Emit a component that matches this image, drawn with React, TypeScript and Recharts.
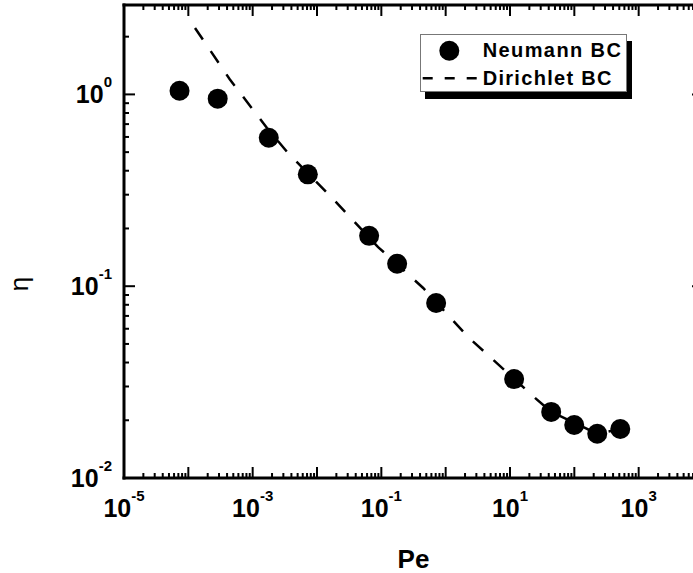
import React from 'react';
import { ScatterChart, Scatter, XAxis, YAxis, Legend } from 'recharts';

// Neumann BC: efficiency η against Péclet number
const PE_NEUMANN = [7.3e-5, 2.86e-4, 1.78e-3, 7.2e-3, 0.0646, 0.176, 0.711, 11.6, 43.7, 99.6, 227, 518];
const ETA_NEUMANN = [1.045, 0.95, 0.594, 0.383, 0.183, 0.131, 0.0817, 0.0328, 0.0221, 0.0189, 0.017, 0.018];

// Dirichlet BC curve
const PE_DIRICHLET = [1.27e-4, 4.4e-4, 1.67e-3, 3.43e-3, 0.0166, 0.0891, 0.447, 2.24, 11.2, 24.7, 43.7, 99.6, 227, 518];
const ETA_DIRICHLET = [2.22, 1.2, 0.668, 0.501, 0.292, 0.16, 0.0979, 0.0543, 0.0332, 0.0261, 0.0221, 0.0194, 0.017, 0.018];

const SERIES_NAMES = ['Neumann BC', 'Dirichlet BC'];

// axis ranges and labelled decades
const X_DOMAIN = [1e-5, 1e4];
const Y_DOMAIN = [0.01, 2.925];
const X_DECADES = [-5, -4, -3, -2, -1, 0, 1, 2, 3, 4];
const Y_DECADES = [-2, -1, 0];
const X_LABEL_EXPONENTS = [-5, -3, -1, 1, 3];
const Y_LABEL_EXPONENTS = [-2, -1, 0];
const MINOR_STEPS = [1, 2, 3, 4, 5, 6, 7, 8, 9];

const FONT = 'Arial, "Liberation Sans", Helvetica, sans-serif';

const buildTicks = (decades: number[], max: number) => {
    const out: number[] = [];
    decades.forEach(e => {
        MINOR_STEPS.forEach(m => {
            const v = m * Math.pow(10, e);
            if (v <= max * 1.0001) out.push(v);
        });
    });
    return out;
};

const X_TICKS = buildTicks(X_DECADES, X_DOMAIN[1]);
const Y_TICKS = buildTicks(Y_DECADES, Y_DOMAIN[1]);

const neumannData = PE_NEUMANN.map((pe, i) => ({ pe, eta: ETA_NEUMANN[i] }));
const dirichletData = PE_DIRICHLET.map((pe, i) => ({ pe, eta: ETA_DIRICHLET[i] }));

const isMajor = (v: number) => {
    const e = Math.log10(v);
    return Math.abs(e - Math.round(e)) < 1e-6;
};

const MAJOR_LEN = 11;
const MINOR_LEN = 5;

function PowerLabel({ x, y, exp, anchor }: { x: number; y: number; exp: number; anchor: 'middle' | 'end' }) {
    return (
        <text x={x} y={y} textAnchor={anchor} fontFamily={FONT} fontWeight="bold" fontSize={25} fill="#000">
            10<tspan dy={-16} fontSize={15}>{exp}</tspan>
        </text>
    );
}

// tick renderers: tickSize/tickMargin are 0, so x/y sit on the axis line
const BottomTick = (props: any) => {
    const { x, y, payload } = props;
    const major = isMajor(payload.value);
    const exp = Math.round(Math.log10(payload.value));
    return (
        <g>
            <line x1={x} x2={x} y1={y} y2={y - (major ? MAJOR_LEN : MINOR_LEN)} stroke="#000" strokeWidth={2} />
            {major && X_LABEL_EXPONENTS.includes(exp) && <PowerLabel x={x} y={y + 39} exp={exp} anchor="middle" />}
        </g>
    );
};

const TopTick = (props: any) => {
    const { x, y, payload } = props;
    const len = isMajor(payload.value) ? MAJOR_LEN : MINOR_LEN;
    return <line x1={x} x2={x} y1={y} y2={y + len} stroke="#000" strokeWidth={2} />;
};

const LeftTick = (props: any) => {
    const { x, y, payload } = props;
    const major = isMajor(payload.value);
    const exp = Math.round(Math.log10(payload.value));
    return (
        <g>
            <line x1={x} x2={x + (major ? MAJOR_LEN : MINOR_LEN)} y1={y} y2={y} stroke="#000" strokeWidth={2} />
            {major && Y_LABEL_EXPONENTS.includes(exp) && <PowerLabel x={x - 12} y={y + 9} exp={exp} anchor="end" />}
        </g>
    );
};

const RightTick = (props: any) => {
    const { x, y, payload } = props;
    const len = isMajor(payload.value) ? MAJOR_LEN : MINOR_LEN;
    return <line x1={x} x2={x - len} y1={y} y2={y} stroke="#000" strokeWidth={2} />;
};

const axisLine = { stroke: '#000', strokeWidth: 3, strokeLinecap: 'square' as const };

const renderLegend = () => (
    <div
        style={{
            width: 207,
            height: 58,
            boxSizing: 'border-box',
            border: '1px solid #777',
            background: '#fff',
            boxShadow: '5px 7px 0 #000',
        }}
    >
        <svg width={205} height={56} style={{ display: 'block' }}>
            <circle cx={28.3} cy={15.7} r={10} fill="#000" />
            <text x={61.7} y={21.7} fontFamily={FONT} fontWeight="bold" fontSize={20} letterSpacing={1.4} fill="#000">
                {SERIES_NAMES[0]}
            </text>
            <line x1={1.7} x2={57} y1={43.3} y2={43.3} stroke="#000" strokeWidth={2.5} strokeDasharray="10 12" />
            <text x={61.7} y={50} fontFamily={FONT} fontWeight="bold" fontSize={20} letterSpacing={1.3} fill="#000">
                {SERIES_NAMES[1]}
            </text>
        </svg>
    </div>
);

const etaLabel = () => (
    <text x={28} y={284} transform="rotate(-90 28 284)" textAnchor="middle" fontFamily={FONT} fontSize={26} fill="#000">
        η
    </text>
);

export default function App() {
    return (
        <div
            style={{
                position: 'fixed',
                left: 0,
                top: 0,
                width: 693,
                height: 573,
                overflow: 'hidden',
                background: '#fff',
            }}
        >
            <ScatterChart width={713} height={573} margin={{ top: 0, right: 0, bottom: 0, left: 0 }}>
                <XAxis
                    xAxisId="bottom"
                    type="number"
                    dataKey="pe"
                    scale="log"
                    domain={X_DOMAIN}
                    allowDataOverflow
                    ticks={X_TICKS}
                    interval={0}
                    tickSize={0}
                    tickMargin={0}
                    tickLine={false}
                    tick={BottomTick}
                    axisLine={axisLine}
                    height={95}
                    label={{
                        value: 'Pe',
                        position: 'insideBottom',
                        offset: 5,
                        fill: '#000',
                        fontSize: 26,
                        fontWeight: 'bold',
                        fontFamily: FONT,
                    }}
                />
                <XAxis
                    xAxisId="top"
                    orientation="top"
                    type="number"
                    dataKey="pe"
                    scale="log"
                    domain={X_DOMAIN}
                    allowDataOverflow
                    ticks={X_TICKS}
                    interval={0}
                    tickSize={0}
                    tickMargin={0}
                    tickLine={false}
                    tick={TopTick}
                    axisLine={axisLine}
                    height={5}
                />
                <YAxis
                    yAxisId="left"
                    type="number"
                    dataKey="eta"
                    scale="log"
                    domain={Y_DOMAIN}
                    allowDataOverflow
                    ticks={Y_TICKS}
                    interval={0}
                    tickSize={0}
                    tickMargin={0}
                    tickLine={false}
                    tick={LeftTick}
                    axisLine={axisLine}
                    width={124}
                    label={{ content: etaLabel }}
                />
                <YAxis
                    yAxisId="right"
                    orientation="right"
                    type="number"
                    dataKey="eta"
                    scale="log"
                    domain={Y_DOMAIN}
                    allowDataOverflow
                    ticks={Y_TICKS}
                    interval={0}
                    tickSize={0}
                    tickMargin={0}
                    tickLine={false}
                    tick={RightTick}
                    axisLine={axisLine}
                    width={10}
                />
                <Legend
                    layout="horizontal"
                    verticalAlign="middle"
                    align="center"
                    content={renderLegend}
                    wrapperStyle={{ left: 420, top: 34, width: 'auto', height: 'auto' }}
                />
                <Scatter
                    name={SERIES_NAMES[1]}
                    data={dirichletData}
                    xAxisId="bottom"
                    yAxisId="left"
                    line={{ stroke: '#000', strokeWidth: 2.5, strokeDasharray: '14 14' }}
                    lineType="joint"
                    shape={() => <g />}
                    isAnimationActive={false}
                />
                <Scatter
                    name={SERIES_NAMES[0]}
                    data={neumannData}
                    xAxisId="bottom"
                    yAxisId="left"
                    fill="#000"
                    shape={(p: any) => <circle cx={p.cx} cy={p.cy} r={10} fill="#000" />}
                    isAnimationActive={false}
                />
            </ScatterChart>
        </div>
    );
}
